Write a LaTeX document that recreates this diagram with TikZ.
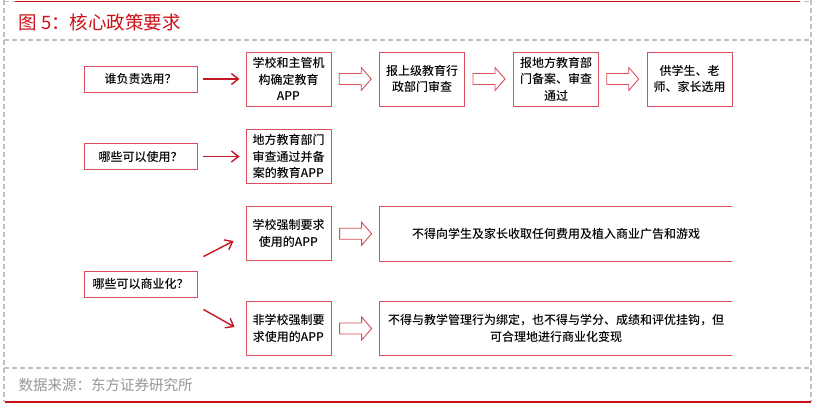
\documentclass[tikz,border=0pt]{standalone}
\usepackage{fontspec}
\setmainfont{Noto Sans CJK SC}
\newfontfamily\boxfont{Noto Sans CJK SC Medium}
\usepackage{xcolor}
\definecolor{dfred}{RGB}{204,16,24}
\definecolor{dfpink}{RGB}{216,78,90}
\definecolor{dfarrow}{RGB}{196,24,36}
\definecolor{dfgray}{RGB}{150,150,150}
\definecolor{dfdash}{RGB}{192,192,192}
\usepackage{tikz}
\usetikzlibrary{arrows.meta, calc}

\tikzset{
  qbox/.style={draw=dfpink, line width=0.9pt, minimum width=113pt, minimum height=26pt,
    inner sep=0pt, font=\boxfont\fontsize{12}{14}\selectfont},
  stepbox/.style={draw=dfpink, line width=0.9pt, minimum width=85pt, minimum height=54pt,
    inner sep=0pt, align=center, font=\boxfont\fontsize{12}{16.5}\selectfont},
  widebox/.style={minimum width=352pt, minimum height=54pt, inner sep=0pt,
    align=center, font=\boxfont\fontsize{12}{16.5}\selectfont},
  redarr/.style={draw=dfarrow, line width=1.4pt, -{Straight Barb[length=7pt,width=11pt]}},
  framedash/.style={draw=dfdash, line width=1.3pt, dash pattern=on 5pt off 3pt},
  fatarrow/.pic={\draw[dfpink, line width=0.9pt, fill=white]
    (-16,-5.5) -- (6,-5.5) -- (6,-11.5) -- (16,0) -- (6,11.5) -- (6,5.5) -- (-16,5.5) -- cycle;}
}

\begin{document}
\begin{tikzpicture}[x=1pt, y=-1pt]
  \useasboundingbox (0,0) rectangle (820,416);
  % frame
  \draw[framedash] (4,0) -- (4,402);
  \draw[framedash] (811,0) -- (811,402);
  \draw[framedash] (4,1.5) -- (811,1.5);
  \draw[dfred, line width=1.3pt] (15,1.2) -- (800,1.2);
  \draw[framedash] (4,40) -- (811,40);
  \draw[framedash] (4,368) -- (811,368);
  \draw[dfred, line width=2.2pt] (5,402) -- (811,402);
  \node[anchor=west, dfred, font=\fontsize{18.5}{21}\selectfont] (title) at (15,22) {图 5：核心政策要求};
  \node[anchor=west, dfgray, font=\fontsize{14.5}{17}\selectfont] (source) at (15,385) {数据来源：东方证券研究所};

  % row 1
  \node[qbox] (q1) at (140.5,79) {谁负责选用？};
  \node[stepbox] (b1) at (288.5,79) {学校和主管机\\构确定教育\\APP};
  \node[stepbox] (b2) at (422,79) {报上级教育行\\政部门审查};
  \node[stepbox] (b3) at (556,79) {报地方教育部\\门备案、审查\\通过};
  \node[stepbox] (b4) at (689.5,79) {供学生、老\\师、家长选用};
  \draw[redarr, shorten <=6pt, shorten >=6pt] (q1) -- (b1);
  \pic at ($(b1.east)!0.5!(b2.west)$) {fatarrow};
  \pic at ($(b2.east)!0.5!(b3.west)$) {fatarrow};
  \pic at ($(b3.east)!0.5!(b4.west)$) {fatarrow};

  % row 2
  \node[qbox] (q2) at (140.5,156.5) {哪些可以使用？};
  \node[stepbox] (b5) at (288.5,156.5) {地方教育部门\\审查通过并备\\案的教育APP};
  \draw[redarr, shorten <=6pt, shorten >=6pt] (q2) -- (b5);

  % row 3
  \node[qbox] (q3) at (140.5,284) {哪些可以商业化？};
  \node[stepbox] (b6) at (288.5,233.5) {学校强制要求\\使用的APP};
  \node[stepbox] (b7) at (288.5,328.5) {非学校强制要\\求使用的APP};
  \node[widebox] (l1) at (556,234) {不得向学生及家长收取任何费用及植入商业广告和游戏};
  \node[widebox] (l2) at (556,328.5) {不得与教学管理行为绑定，也不得与学分、成绩和评优挂钩，但\\可合理地进行商业化变现};
  \draw[dfpink, line width=0.9pt] (l1.north east) -- (l1.north west) -- (l1.south west) -- (l1.south east);
  \draw[dfpink, line width=0.9pt] (l2.north east) -- (l2.north west) -- (l2.south west) -- (l2.south east);
  \coordinate (q3up) at ($(q3.north east)+(6,-14)$);
  \coordinate (q3down) at ($(q3.south east)+(6,12)$);
  \draw[redarr] (q3up) -- ($(b6.west)+(-12,7.5)$);
  \draw[redarr] (q3down) -- ($(b7.west)+(-11,-1.5)$);
  \pic at ($(b6.east)!0.5!(l1.west)$) {fatarrow};
  \pic at ($(b7.east)!0.5!(l2.west)$) {fatarrow};
\end{tikzpicture}
\end{document}
